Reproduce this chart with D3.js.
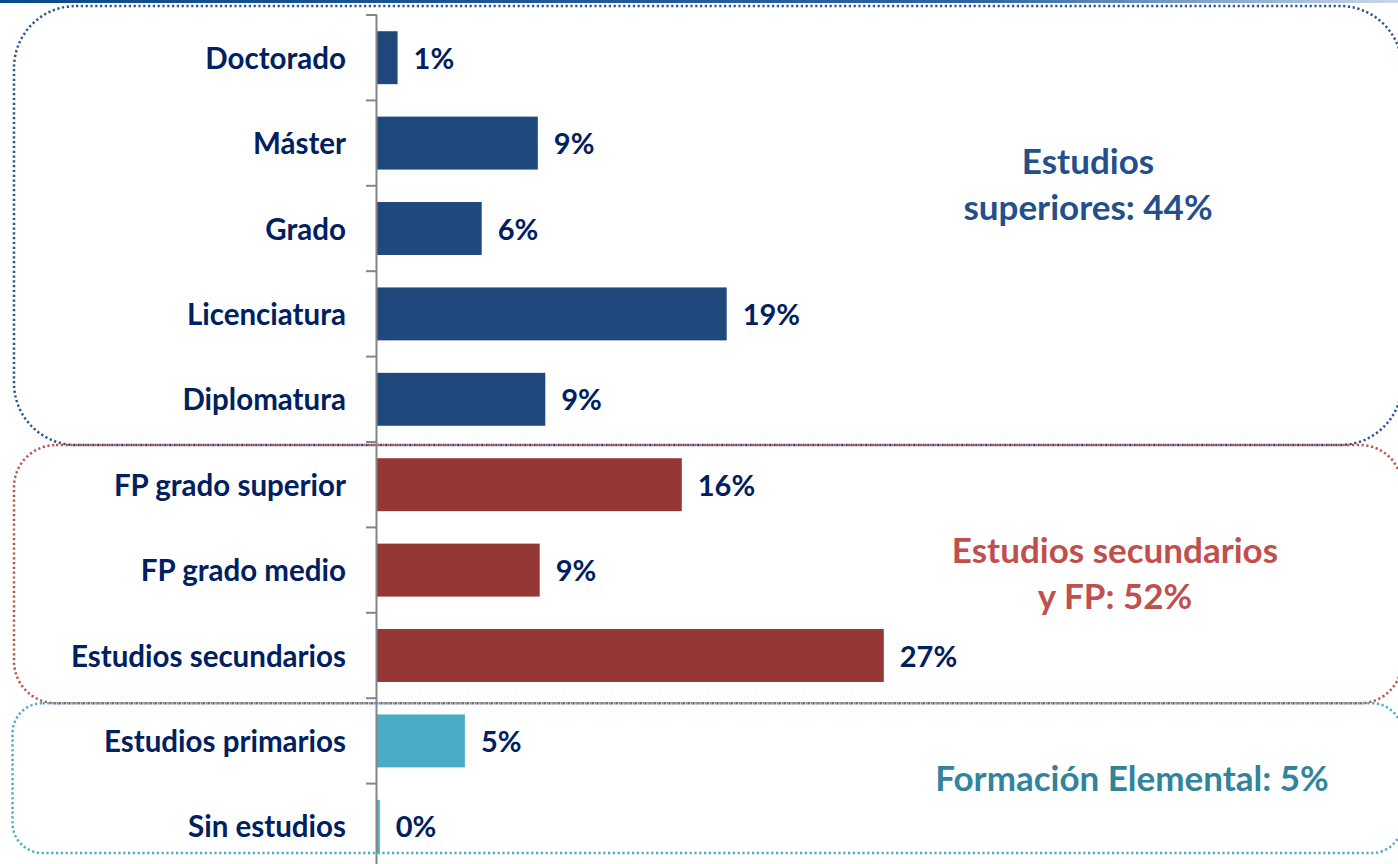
<!DOCTYPE html>
<html>
<head>
<meta charset="utf-8">
<script src="https://cdn.jsdelivr.net/npm/d3@7"></script>
<style>
  body { margin: 0; background: #fff; }
  text { font-family: Lato, "Open Sans", sans-serif; font-weight: bold; }
</style>
</head>
<body>
<script>
var categories = ["Doctorado", "Máster", "Grado", "Licenciatura", "Diplomatura",
                  "FP grado superior", "FP grado medio", "Estudios secundarios",
                  "Estudios primarios", "Sin estudios"]
var values = [1.1, 8.6, 5.6, 18.7, 9.0, 16.3, 8.7, 27.1, 4.7, 0.15]
var groupOf = ["sup", "sup", "sup", "sup", "sup", "sec", "sec", "sec", "ele", "ele"]

var groupKeys = ["sup", "sec", "ele"]
var groupLabels = [["Estudios", "superiores: 44%"], ["Estudios secundarios", "y FP: 52%"], ["Formación Elemental: 5%"]]
var barColors = ["#1f497d", "#953735", "#4bacc6"]
var boxColors = ["#2a5592", "#c0504d", "#4bacc6"]
var textColors = ["#23508a", "#c0504d", "#31849b"]

var width = 1398, height = 864

var svg = d3.select("body").append("svg")
    .attr("width", width)
    .attr("height", height)

var defs = svg.append("defs")
var grad = defs.append("linearGradient").attr("id", "topline")
grad.append("stop").attr("offset", "0%").attr("stop-color", "#0b4a8c")
grad.append("stop").attr("offset", "70%").attr("stop-color", "#2a64a4")
grad.append("stop").attr("offset", "100%").attr("stop-color", "#c9d9ec")
svg.append("rect").attr("x", 0).attr("y", 0).attr("width", width).attr("height", 3)
    .attr("fill", "url(#topline)")

var x0 = 377
var x = d3.scaleLinear().domain([0, 30]).range([x0, x0 + 561])
var y = d3.scaleBand().domain(categories).range([15, 869]).paddingInner(0.38).paddingOuter(0.19)
var step = y.step(), off = step * 0.19
var color = d3.scaleOrdinal().domain(groupKeys).range(barColors)

// group boxes (dotted, rounded) + their labels
var boxes = [
  {g: 0, top: -9, bottom: 3, rx: 62, cx: 1088, dy: -41},
  {g: 1, top: 3, bottom: 5, rx: 42, cx: 1115, dy: 0},
  {g: 2, top: 5, bottom: -16, rx: 30, cx: 1132, dy: 1}
]
boxes.forEach(function(b) {
  var cats = categories.filter(function(c, i) { return groupOf[i] == groupKeys[b.g] })
  var y0 = y(cats[0]) - off + b.top
  var y1 = y(cats[cats.length - 1]) - off + step + b.bottom
  var left = b.g == 2 ? 12.5 : 14
  svg.append("rect")
      .attr("x", left).attr("y", y0)
      .attr("width", 1402 - left).attr("height", y1 - y0)
      .attr("rx", b.rx)
      .attr("fill", "none")
      .attr("stroke", boxColors[b.g])
      .attr("stroke-width", 2.5)
      .attr("stroke-dasharray", "2.2 2.6")
  var lines = groupLabels[b.g]
  var cy = (y0 + y1) / 2 + b.dy
  var t = svg.append("text")
      .attr("text-anchor", "middle")
      .attr("fill", textColors[b.g])
      .style("font-size", "35px")
  lines.forEach(function(l, i) {
    t.append("tspan").attr("x", b.cx).attr("y", cy + (i - (lines.length - 1) / 2) * 46 + 12).text(l)
  })
})

// bars
svg.selectAll(".bar")
    .data(categories)
    .enter().append("rect")
      .attr("class", "bar")
      .attr("x", x(0))
      .attr("y", function(d) { return y(d) })
      .attr("width", function(d, i) { return x(values[i]) - x(0) })
      .attr("height", y.bandwidth())
      .attr("fill", function(d, i) { return color(groupOf[i]) })

// value labels
svg.selectAll(".val")
    .data(categories)
    .enter().append("text")
      .attr("class", "val")
      .attr("x", function(d, i) { return x(values[i]) + 16 })
      .attr("y", function(d) { return y(d) + y.bandwidth() / 2 + 11 })
      .attr("fill", "#002060")
      .style("font-size", "29px")
      .text(function(d, i) { return Math.round(values[i]) + "%" })

// axis
var axis = svg.append("g").attr("class", "axis")
axis.append("line")
    .attr("x1", x0 - 0.5).attr("x2", x0 - 0.5)
    .attr("y1", y(categories[0]) - off).attr("y2", height + 10)
    .attr("stroke", "#868686").attr("stroke-width", 2)
axis.selectAll(".tick")
    .data(categories.concat([null]))
    .enter().append("line")
      .attr("x1", x0 - 11).attr("x2", x0)
      .attr("y1", function(d, i) { return y(categories[0]) - off + i * step })
      .attr("y2", function(d, i) { return y(categories[0]) - off + i * step })
      .attr("stroke", "#868686").attr("stroke-width", 2)
axis.selectAll(".cat")
    .data(categories)
    .enter().append("text")
      .attr("x", x0 - 31)
      .attr("y", function(d) { return y(d) + y.bandwidth() / 2 + 11 })
      .attr("text-anchor", "end")
      .attr("fill", "#002060")
      .style("font-size", "29.5px")
      .text(function(d) { return d })
</script>
</body>
</html>
